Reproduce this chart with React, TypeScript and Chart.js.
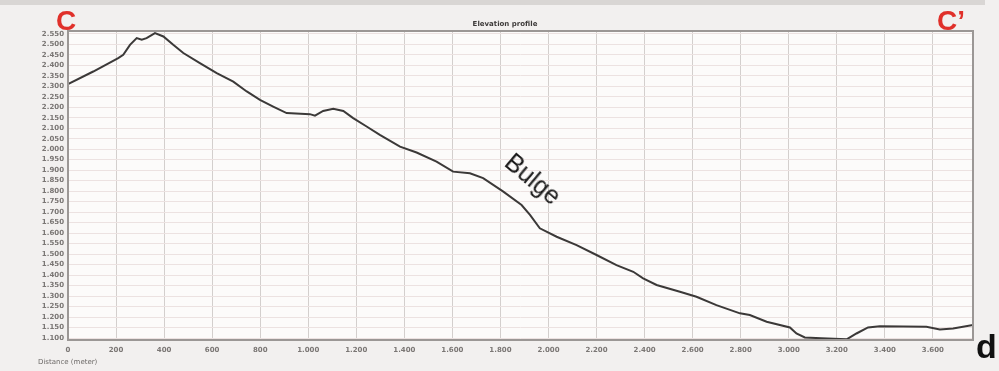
import React, { useEffect, useRef } from "react";
import { Chart, registerables } from "chart.js";

Chart.register(...registerables);

// Distance along profile (m)
const distances = [
  0, 105, 209, 230, 258, 286, 307, 327, 362, 397, 438, 480, 549, 619, 688, 744,
  799, 854, 910, 1007, 1028, 1062, 1104, 1146, 1187, 1243, 1298, 1382, 1451,
  1534, 1603, 1673, 1728, 1812, 1888, 1923, 1964, 2034, 2117, 2200, 2283, 2353,
  2394, 2450, 2547, 2616, 2699, 2797, 2838, 2908, 3005, 3032, 3067, 3136, 3241,
  3282, 3330, 3379, 3573, 3629, 3684, 3767,
];
// Elevation (m)
const elevations = [
  2310, 2370, 2434, 2450, 2497, 2529, 2521, 2529, 2553, 2537, 2497, 2458, 2410,
  2362, 2322, 2275, 2235, 2203, 2172, 2167, 2160, 2182, 2192, 2182, 2148, 2108,
  2068, 2012, 1984, 1941, 1893, 1885, 1862, 1798, 1734, 1687, 1623, 1583, 1543,
  1496, 1448, 1416, 1385, 1353, 1321, 1297, 1257, 1218, 1210, 1178, 1151, 1122,
  1103, 1099, 1094, 1122, 1151, 1157, 1154, 1141, 1146, 1162,
];
const yTicks = [
  1100, 1150, 1200, 1250, 1300, 1350, 1400, 1450, 1500, 1550, 1600, 1650, 1700,
  1750, 1800, 1850, 1900, 1950, 2000, 2050, 2100, 2150, 2200, 2250, 2300, 2350,
  2400, 2450, 2500, 2550,
];
const xTicks = [
  0, 200, 400, 600, 800, 1000, 1200, 1400, 1600, 1800, 2000, 2200, 2400, 2600,
  2800, 3000, 3200, 3400, 3600,
];

const chartTitle = "Elevation profile";
const xAxisTitle = "Distance (meter)";

function fmt(v: number): string {
  if (v >= 1000) {
    const t = Math.floor(v / 1000);
    const r = Math.round(v % 1000);
    return t + "." + String(r).padStart(3, "0");
  }
  return String(v);
}

const framePlugin = {
  id: "frame",
  beforeDraw(chart: any) {
    const { ctx, chartArea, width, height } = chart;
    ctx.save();
    ctx.fillStyle = "#f2f0ef";
    ctx.fillRect(0, 0, width, height);
    ctx.fillStyle = "#fcfbfa";
    ctx.fillRect(
      chartArea.left,
      chartArea.top,
      chartArea.right - chartArea.left,
      chartArea.bottom - chartArea.top
    );
    ctx.restore();
  },
  afterDraw(chart: any) {
    const { ctx, chartArea } = chart;
    ctx.save();
    ctx.strokeStyle = "#9b9795";
    ctx.lineWidth = 2;
    ctx.strokeRect(
      chartArea.left,
      chartArea.top,
      chartArea.right - chartArea.left,
      chartArea.bottom - chartArea.top
    );
    ctx.restore();
  },
};

export default function App() {
  const ref = useRef<HTMLCanvasElement | null>(null);

  useEffect(() => {
    document.body.style.margin = "0";
    if (!ref.current) return;
    const points = distances.map((d, i) => ({ x: d, y: elevations[i] }));
    const chart = new Chart(ref.current, {
      type: "line",
      data: {
        datasets: [
          {
            data: points,
            borderColor: "#3b3938",
            borderWidth: 2,
            pointRadius: 0,
            tension: 0,
            fill: false,
          },
        ],
      },
      options: {
        animation: false,
        responsive: false,
        maintainAspectRatio: false,
        layout: { padding: { top: 31, right: 26, left: 0, bottom: 0 } },
        plugins: {
          legend: { display: false },
          tooltip: { enabled: false },
          title: { display: false },
        },
        scales: {
          x: {
            type: "linear",
            min: 0,
            max: 3767,
            afterBuildTicks: (scale: any) => {
              scale.ticks = xTicks.map((v) => ({ value: v }));
            },
            afterFit: (scale: any) => {
              scale.height = 31;
            },
            grid: { color: "#d3cfcd", lineWidth: 1, drawTicks: false },
            border: { display: false },
            ticks: {
              autoSkip: false,
              maxRotation: 0,
              padding: 6,
              color: "#7a7674",
              font: { size: 7, weight: "bold", family: "DejaVu Sans" },
              callback: (v: any) => fmt(Number(v)),
            },
          },
          y: {
            type: "linear",
            min: 1091,
            max: 2563,
            afterBuildTicks: (scale: any) => {
              scale.ticks = yTicks.map((v) => ({ value: v }));
            },
            afterFit: (scale: any) => {
              scale.width = 68;
            },
            grid: { color: "#ece2e1", lineWidth: 1, drawTicks: false },
            border: { display: false },
            ticks: {
              autoSkip: false,
              padding: 4,
              color: "#7a7674",
              font: { size: 7, weight: "bold", family: "DejaVu Sans" },
              callback: (v: any) => fmt(Number(v)),
            },
          },
        },
      },
      plugins: [framePlugin],
    });
    return () => chart.destroy();
  }, []);

  const labelBase: React.CSSProperties = {
    position: "absolute",
    fontFamily: "'Liberation Sans', Arial, sans-serif",
    whiteSpace: "nowrap",
    lineHeight: 1,
  };

  return (
    <div style={{ position: "relative", width: 999, height: 371, overflow: "hidden" }}>
      <canvas ref={ref} width={999} height={371} style={{ display: "block" }} />
      <div
        style={{
          position: "absolute",
          left: 0,
          top: 0,
          width: 985,
          height: 5,
          background: "#d9d6d4",
        }}
      />
      <div
        style={{
          ...labelBase,
          left: 0,
          width: 1010,
          top: 21,
          textAlign: "center",
          fontFamily: "'DejaVu Sans', sans-serif",
          fontSize: 7,
          fontWeight: "bold",
          color: "#3d3a39",
        }}
      >
        {chartTitle}
      </div>
      <div
        style={{
          ...labelBase,
          left: 38,
          top: 359,
          fontFamily: "'DejaVu Sans', sans-serif",
          fontSize: 7,
          color: "#6d6a68",
        }}
      >
        {xAxisTitle}
      </div>
      <div
        style={{
          ...labelBase,
          left: 56,
          top: 7,
          fontSize: 28,
          fontWeight: "bold",
          color: "#e0302a",
        }}
      >
        C
      </div>
      <div
        style={{
          ...labelBase,
          left: 937,
          top: 7,
          fontSize: 28,
          fontWeight: "bold",
          color: "#e0302a",
        }}
      >
        C’
      </div>
      <div
        style={{
          ...labelBase,
          left: 976,
          top: 329,
          fontSize: 34,
          fontWeight: "bold",
          color: "#111",
        }}
      >
        d
      </div>
      <div
        style={{
          ...labelBase,
          left: 533,
          top: 179,
          fontSize: 25,
          color: "#1a1a1a",
          transform: "translate(-50%, -50%) rotate(40deg)",
        }}
      >
        Bulge
      </div>
    </div>
  );
}
